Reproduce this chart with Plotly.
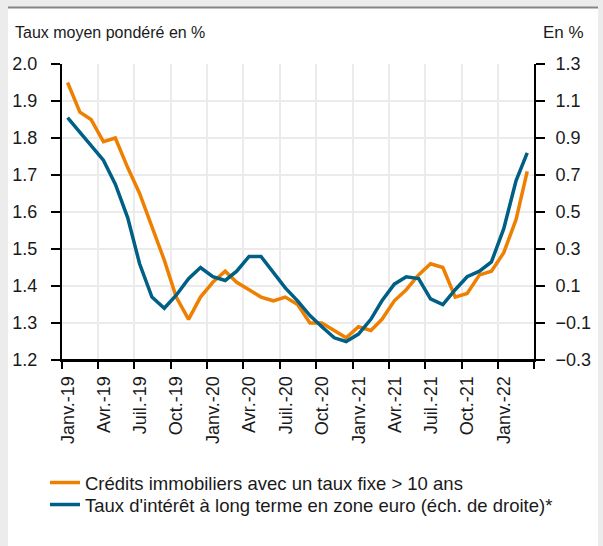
import pandas as pd
import plotly.graph_objects as go

# monthly averages, Jan 2019 - Mar 2022
months = pd.date_range("2019-01-01", periods=39, freq="MS") + pd.Timedelta(days=14)

credits_fixe = [1.95, 1.87, 1.85, 1.79, 1.80, 1.72, 1.65, 1.56, 1.47, 1.37,
                1.31, 1.37, 1.41, 1.44, 1.41, 1.39, 1.37, 1.36, 1.37, 1.35,
                1.30, 1.30, 1.28, 1.26, 1.29, 1.28, 1.31, 1.36, 1.39, 1.43,
                1.46, 1.45, 1.37, 1.38, 1.43, 1.44, 1.49, 1.58, 1.71]

taux_long = [1.01, 0.93, 0.86, 0.78, 0.65, 0.47, 0.22, 0.04, -0.02, 0.05,
             0.14, 0.20, 0.15, 0.13, 0.18, 0.26, 0.26, 0.17, 0.09, 0.02,
             -0.06, -0.12, -0.18, -0.20, -0.16, -0.08, 0.02, 0.11, 0.15, 0.14,
             0.03, 0.00, 0.08, 0.15, 0.18, 0.23, 0.41, 0.67, 0.82]

tick_dates = pd.date_range("2019-01-01", periods=14, freq="QS")
tick_text = ["Janv.-19", "Avr.-19", "Juil.-19", "Oct.-19",
             "Janv.-20", "Avr.-20", "Juil.-20", "Oct.-20",
             "Janv.-21", "Avr.-21", "Juil.-21", "Oct.-21",
             "Janv.-22", ""]

ORANGE = "#ee7f00"
BLUE = "#005f85"
FONT = "Liberation Sans"

fig = go.Figure()
fig.add_trace(go.Scatter(x=months, y=credits_fixe, mode="lines",
                         name="Crédits immobiliers avec un taux fixe > 10 ans",
                         line=dict(color=ORANGE, width=3.5), legend="legend"))
fig.add_trace(go.Scatter(x=months, y=taux_long, mode="lines", yaxis="y2",
                         name="Taux d'intérêt à long terme en zone euro (éch. de droite)*",
                         line=dict(color=BLUE, width=3.5), legend="legend2"))

# plot area in pixels: x 62..534, y 64..360
L, R, T, B = 62, 534, 64, 360
W, H = R - L, B - T
px = lambda p: (p - L) / W
py = lambda p: (B - p) / H

leg = dict(xanchor="left", yanchor="middle", bgcolor="rgba(0,0,0,0)",
           font=dict(size=18.5))

fig.update_layout(
    width=603, height=546,
    margin=dict(l=L, r=603 - R, t=T, b=546 - B, autoexpand=False),
    paper_bgcolor="#ececec",
    plot_bgcolor="white",
    font=dict(family=FONT, size=18, color="#1a1a1a"),
    showlegend=True,
    legend=dict(x=px(45), y=py(483), **leg),
    legend2=dict(x=px(45), y=py(505), **leg),
    xaxis=dict(type="date", range=["2019-01-01", "2022-04-01"],
               tickvals=tick_dates, ticktext=tick_text, tickangle=-90,
               ticks="outside", ticklen=7, tickwidth=2, tickcolor="black",
               ticklabelshift=6,
               showline=True, linecolor="black", linewidth=2,
               showgrid=True, gridcolor="#ebebeb", gridwidth=1.5,
               zeroline=False),
    yaxis=dict(range=[1.2, 2.0], dtick=0.1, tickformat=".1f",
               ticks="outside", ticklen=9, tickwidth=2, tickcolor="black",
               ticklabelstandoff=10,
               showline=True, linecolor="black", linewidth=2,
               showgrid=True, gridcolor="#ebebeb", gridwidth=1.5,
               zeroline=False),
    yaxis2=dict(range=[-0.3, 1.3], tick0=-0.3, dtick=0.2, tickformat=".1f",
                overlaying="y", side="right",
                ticks="outside", ticklen=9, tickwidth=2, tickcolor="black",
                ticklabelstandoff=7,
                showline=True, linecolor="black", linewidth=2,
                showgrid=False, zeroline=False),
    shapes=[
        dict(type="rect", xref="paper", yref="paper", layer="below",
             x0=px(8), x1=px(598), y0=py(546), y1=py(8),
             fillcolor="white", line=dict(width=0)),
        dict(type="line", xref="paper", yref="paper",
             x0=px(8), x1=px(598), y0=py(7.5), y1=py(7.5),
             line=dict(color="#858585", width=2)),
        dict(type="line", xref="paper", yref="paper",
             x0=px(54), x1=px(541), y0=0, y1=0,
             line=dict(color="black", width=2)),
    ],
    annotations=[
        dict(text="Taux moyen pondéré en %", xref="paper", yref="paper",
             x=px(13), y=py(32), xanchor="left", yanchor="middle",
             showarrow=False, font=dict(size=16)),
        dict(text="En %", xref="paper", yref="paper",
             x=px(586), y=py(32), xanchor="right", yanchor="middle",
             showarrow=False, font=dict(size=17)),
    ],
)

fig.write_html("out.html", config={"displayModeBar": False},
               post_script="document.body.style.margin='0';")
